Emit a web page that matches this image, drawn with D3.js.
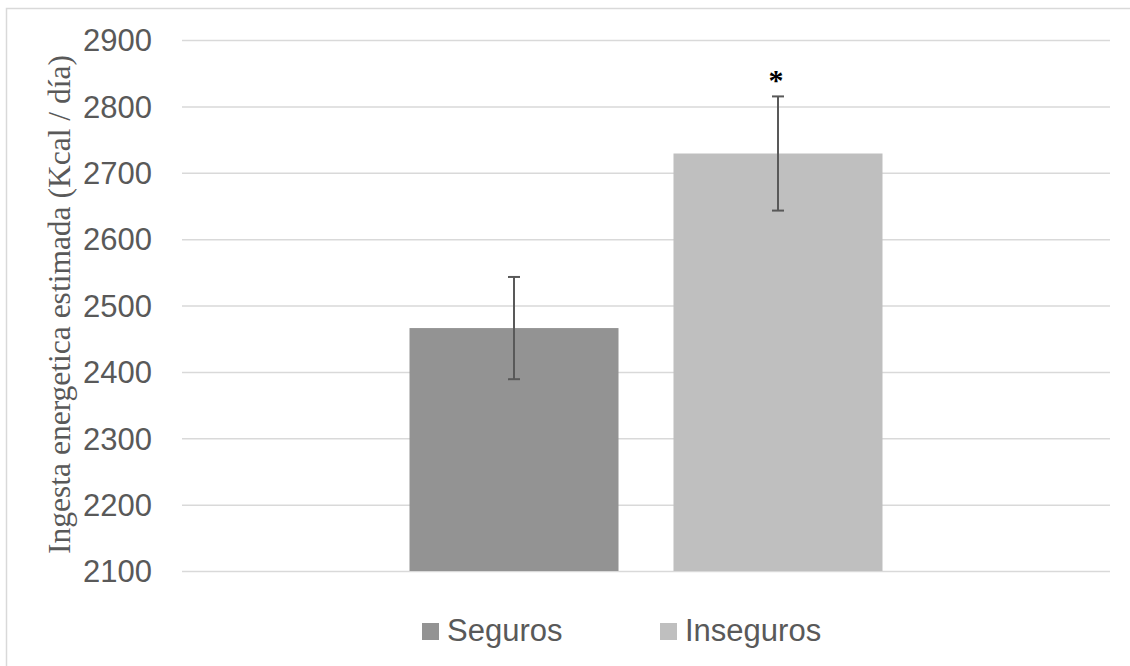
<!DOCTYPE html>
<html>
<head>
<meta charset="utf-8">
<script src="https://cdn.jsdelivr.net/npm/d3@7"></script>
<style>
  html, body { margin: 0; padding: 0; background: #fff; }
  svg { display: block; }
</style>
</head>
<body>
<svg id="chart" width="1130" height="666"></svg>
<script>
// ---- data ----
const categories = ["Grupo"];
const seriesNames = ["Seguros", "Inseguros"];
const seriesValues = [2466, 2729];
const seriesErrors = [77, 86];
const seriesColors = ["#939393", "#bfbfbf"];
const significance = ["", "*"];
const yTicks = [2100, 2200, 2300, 2400, 2500, 2600, 2700, 2800, 2900];
const yTitle = "Ingesta energetica estimada (Kcal / día)";

const W = 1130, H = 666;
const svg = d3.select("#chart");

// outer frame
svg.append("rect")
  .attr("x", 6.5).attr("y", 8.5)
  .attr("width", W + 10).attr("height", H + 10)
  .attr("fill", "none").attr("stroke", "#d9d9d9").attr("stroke-width", 1.5);

const plot = { left: 182, right: 1110, top: 40, bottom: 571 };

const y = d3.scaleLinear().domain([2100, 2900]).range([plot.bottom, plot.top]);
const x0 = d3.scaleBand().domain(categories).range([plot.left, plot.right])
  .paddingOuter(0.481).paddingInner(0);
const x1 = d3.scaleBand().domain(seriesNames).range([0, x0.bandwidth()])
  .paddingInner(0.2083).paddingOuter(0);

// gridlines
const grid = svg.append("g")
  .attr("transform", `translate(${plot.left},0)`)
  .call(d3.axisRight(y).tickValues(yTicks).tickSize(plot.right - plot.left).tickFormat(""));
grid.select(".domain").remove();
grid.selectAll(".tick line").attr("stroke", "#d9d9d9").attr("stroke-width", 1.5);

// y axis labels
const yAxis = svg.append("g")
  .attr("transform", `translate(${plot.left - 30},0)`)
  .call(d3.axisLeft(y).tickValues(yTicks).tickSize(0).tickPadding(0).tickFormat(d3.format("d")));
yAxis.select(".domain").remove();
yAxis.selectAll(".tick text")
  .attr("font-family", "'Liberation Sans', Arial, sans-serif")
  .attr("font-size", 31)
  .attr("fill", "#595959")
  .attr("dy", "0.35em");

// y title
svg.append("text")
  .attr("transform", `translate(70,${(52 + 557) / 2}) rotate(-90)`)
  .attr("text-anchor", "middle")
  .attr("font-family", "'Liberation Serif', 'Times New Roman', serif")
  .attr("font-size", 31.5)
  .attr("fill", "#595959")
  .text(yTitle);

// bars
const data = seriesNames.map((s, i) => ({
  cat: categories[0], name: s, value: seriesValues[i], err: seriesErrors[i],
  color: seriesColors[i], sig: significance[i]
}));

const g = svg.append("g");
g.selectAll("rect.bar").data(data).enter().append("rect")
  .attr("class", "bar")
  .attr("x", d => x0(d.cat) + x1(d.name))
  .attr("y", d => y(d.value))
  .attr("width", x1.bandwidth())
  .attr("height", d => y(2100) - y(d.value))
  .attr("fill", d => d.color);

// error bars
const cx = d => x0(d.cat) + x1(d.name) + x1.bandwidth() / 2;
const eb = g.selectAll("g.err").data(data).enter().append("g").attr("class", "err")
  .attr("stroke", "#595959").attr("stroke-width", 2);
eb.append("line")
  .attr("x1", cx).attr("x2", cx)
  .attr("y1", d => y(d.value + d.err)).attr("y2", d => y(d.value - d.err));
eb.append("line")
  .attr("x1", d => cx(d) - 6).attr("x2", d => cx(d) + 6)
  .attr("y1", d => y(d.value + d.err)).attr("y2", d => y(d.value + d.err));
eb.append("line")
  .attr("x1", d => cx(d) - 6).attr("x2", d => cx(d) + 6)
  .attr("y1", d => y(d.value - d.err)).attr("y2", d => y(d.value - d.err));

// significance marks
g.selectAll("text.sig").data(data.filter(d => d.sig)).enter().append("text")
  .attr("class", "sig")
  .attr("x", d => cx(d) - 2)
  .attr("y", d => y(d.value + d.err) - 6)
  .attr("text-anchor", "middle")
  .attr("font-family", "'Liberation Serif', 'Times New Roman', serif")
  .attr("font-weight", "bold")
  .attr("font-size", 30)
  .attr("fill", "#000")
  .text(d => d.sig);

// legend
const legend = svg.append("g");
const legendX = [422, 660];
const items = legend.selectAll("g").data(data).enter().append("g")
  .attr("transform", (d, i) => `translate(${legendX[i]},623)`);
items.append("rect").attr("width", 17).attr("height", 17).attr("fill", d => d.color);
items.append("text")
  .attr("x", 25).attr("y", 18)
  .attr("font-family", "'Liberation Sans', Arial, sans-serif")
  .attr("font-size", 31)
  .attr("fill", "#595959")
  .text(d => d.name);
</script>
</body>
</html>
